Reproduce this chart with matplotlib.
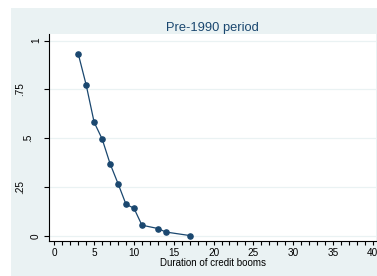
import matplotlib
matplotlib.use("Agg")
import matplotlib.pyplot as plt
from matplotlib.patches import Rectangle
from matplotlib.transforms import ScaledTranslation
from matplotlib.ticker import MultipleLocator

# Data
duration = [3, 4, 5, 6, 7, 8, 9, 10, 11, 13, 14, 17]
share = [0.933, 0.773, 0.582, 0.497, 0.370, 0.268, 0.162, 0.142, 0.055, 0.038, 0.020, 0.002]
x_ticks = [0, 5, 10, 15, 20, 25, 30, 35, 40]
y_ticks = [0, 0.25, 0.5, 0.75, 1]
y_tick_labels = ["0", ".25", ".5", ".75", "1"]
title = "Pre-1990 period"
x_label = "Duration of credit booms"

W, H = 377, 276
dpi = 100
PX = 72 / dpi  # points per pixel
bg = "#EAF2F3"
navy = "#1a476f"
plt.rcParams['font.family'] = ['Liberation Sans', 'DejaVu Sans']

fig = plt.figure(figsize=(W / dpi, H / dpi), dpi=dpi, facecolor="white")
fig.patches.append(Rectangle((11 / W, 0), 1 - 11 / W, 1 - 8 / H,
                             transform=fig.transFigure, facecolor=bg,
                             edgecolor="none", zorder=-10))

left, right, top, bottom = 49, 376, 34, 241
ax = fig.add_axes([left / W, 1 - bottom / H, (right - left) / W, (bottom - top) / H])
ax.set_zorder(1)
ax.set_facecolor("white")

ax.plot(duration, share, color=navy, lw=0.9, marker="o", ms=5.2 * PX,
        markerfacecolor=navy, markeredgecolor=navy, zorder=3)

ax.set_xlim(-0.67, 40.4)
ax.set_ylim(-0.026, 1.034)

ax.set_xticks(x_ticks)
ax.set_xticklabels([str(v) for v in x_ticks], fontsize=7.2)
ax.xaxis.set_minor_locator(MultipleLocator(1))
ax.set_yticks(y_ticks)
ax.set_yticklabels(y_tick_labels, fontsize=7.2, rotation=90, va="center", ha="right")

ax.tick_params(axis="x", which="major", length=4 * PX, width=0.8, pad=3 * PX, colors="black")
ax.tick_params(axis="x", which="minor", length=4 * PX, width=0.8, colors="black")
ax.tick_params(axis="y", which="major", length=5 * PX, width=0.8, pad=3 * PX, colors="black")

# Stata-like staggered rotated labels
for lbl in ax.get_yticklabels():
    n = len(lbl.get_text())
    lbl.set_transform(lbl.get_transform() +
                      ScaledTranslation(-(n - 1) * 8 / dpi, 0, fig.dpi_scale_trans))

ax.grid(axis="y", color=bg, lw=0.9, zorder=0)
ax.set_axisbelow(True)
for s in ["top", "right"]:
    ax.spines[s].set_visible(False)
for s in ["left", "bottom"]:
    ax.spines[s].set_color("black")
    ax.spines[s].set_linewidth(0.8)

ax.set_title(title, fontsize=9.3, color=navy, pad=3 * PX)
ax.set_xlabel(x_label, fontsize=7, labelpad=0.2)

fig.savefig("out.png", dpi=dpi, facecolor="white")
